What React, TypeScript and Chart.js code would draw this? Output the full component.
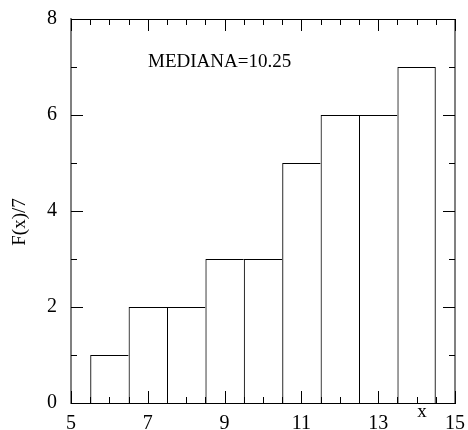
import React, { useEffect, useRef } from "react";
import { Chart, registerables } from "chart.js";

Chart.register(...registerables);

// ---- data ----
const binCenters: number[] = [6, 7, 8, 9, 10, 11, 12, 13, 14];
const counts: number[] = [1, 2, 2, 3, 3, 5, 6, 6, 7];
const xRange: number[] = [5, 15];
const yRange: number[] = [0, 8];
const xLabelStep = 2;
const yLabelStep = 2;
const xTickStep = 0.5;
const yTickStep = 1;
const yTitle = "F(x)/7";
const xTitle = "x";
const annotation = "MEDIANA=10.25";

const SERIF = "'Liberation Serif', 'Times New Roman', Times, serif";

export default function App() {
  const ref = useRef<HTMLCanvasElement>(null);

  useEffect(() => {
    if (!ref.current) return;

    const frame = {
      id: "frame",
      afterDraw(chart: any) {
        const { ctx, chartArea: a, scales } = chart;
        const xs = scales.x;
        const ys = scales.y;
        ctx.save();
        // top border (black)
        ctx.strokeStyle = "#000";
        ctx.lineWidth = 1;
        ctx.beginPath();
        ctx.moveTo(a.left, Math.round(a.top) + 0.5);
        ctx.lineTo(a.right, Math.round(a.top) + 0.5);
        ctx.stroke();
        // right border (gray)
        ctx.strokeStyle = "#808080";
        ctx.lineWidth = 2;
        ctx.beginPath();
        ctx.moveTo(Math.round(a.right), a.top);
        ctx.lineTo(Math.round(a.right), a.bottom);
        ctx.stroke();

        // inward ticks
        ctx.strokeStyle = "#000";
        ctx.lineWidth = 1;
        ctx.beginPath();
        for (let v = xRange[0]; v <= xRange[1] + 1e-9; v += xTickStep) {
          const px = Math.round(xs.getPixelForValue(v)) + 0.5;
          const r = (v - xRange[0]) / xLabelStep;
          const len = Math.abs(r - Math.round(r)) < 1e-6 ? 12 : 6;
          ctx.moveTo(px, a.bottom);
          ctx.lineTo(px, a.bottom - len);
          ctx.moveTo(px, a.top);
          ctx.lineTo(px, a.top + len);
        }
        for (let v = yRange[0]; v <= yRange[1] + 1e-9; v += yTickStep) {
          const py = Math.round(ys.getPixelForValue(v)) + 0.5;
          const r = (v - yRange[0]) / yLabelStep;
          const len = Math.abs(r - Math.round(r)) < 1e-6 ? 12 : 6;
          ctx.moveTo(a.left, py);
          ctx.lineTo(a.left + len, py);
          ctx.moveTo(a.right, py);
          ctx.lineTo(a.right - len, py);
        }
        ctx.stroke();

        // texts
        ctx.fillStyle = "#000";
        ctx.font = `19px ${SERIF}`;
        ctx.textBaseline = "alphabetic";
        ctx.textAlign = "left";
        ctx.fillText(annotation, 148, 67);

        ctx.textAlign = "center";
        ctx.fillText(xTitle, 422, 417);

        ctx.translate(25, 222);
        ctx.rotate(-Math.PI / 2);
        ctx.textAlign = "center";
        ctx.fillText(yTitle, 0, 0);
        ctx.restore();
      },
    };

    const last = binCenters.length - 1;

    const chart = new Chart(ref.current, {
      type: "bar",
      data: {
        datasets: [
          {
            data: binCenters.map((c, i) => ({ x: c, y: counts[i] })),
            backgroundColor: "rgba(255,255,255,0)",
            borderColor: "#000",
            borderWidth: (c: any) => ({
              left: 1,
              top: 1,
              right: c.dataIndex === last ? 1 : 0,
              bottom: 0,
            }),
            borderSkipped: false,
            inflateAmount: 0,
            barPercentage: 1,
            categoryPercentage: 1,
          },
        ],
      },
      options: {
        responsive: false,
        animation: false,
        layout: { padding: { left: 0, top: 19, right: 13, bottom: 0 } },
        plugins: { legend: { display: false }, tooltip: { enabled: false } },
        scales: {
          x: {
            type: "linear",
            min: xRange[0],
            max: xRange[1],
            offset: false,
            grid: { display: false, drawTicks: false, offset: false },
            border: { display: true, color: "#000", width: 1 },
            ticks: {
              stepSize: xLabelStep,
              color: "#000",
              padding: 9,
              font: { family: SERIF, size: 20 },
            },
            afterFit: (s: any) => {
              s.height = 27;
              s.paddingLeft = 0;
              s.paddingRight = 0;
            },
          },
          y: {
            type: "linear",
            min: yRange[0],
            max: yRange[1],
            grid: { display: false, drawTicks: false },
            border: { display: true, color: "#808080", width: 2 },
            ticks: {
              stepSize: yLabelStep,
              color: "#000",
              padding: 14,
              font: { family: SERIF, size: 20 },
            },
            afterFit: (s: any) => {
              s.width = 71;
              s.paddingTop = 0;
              s.paddingBottom = 0;
            },
          },
        },
      },
      plugins: [frame],
    } as any);

    return () => chart.destroy();
  }, []);

  return (
    <div style={{ position: "fixed", left: 0, top: 0, width: 468, height: 430, background: "#fff" }}>
      <canvas ref={ref} width={468} height={430} />
    </div>
  );
}
